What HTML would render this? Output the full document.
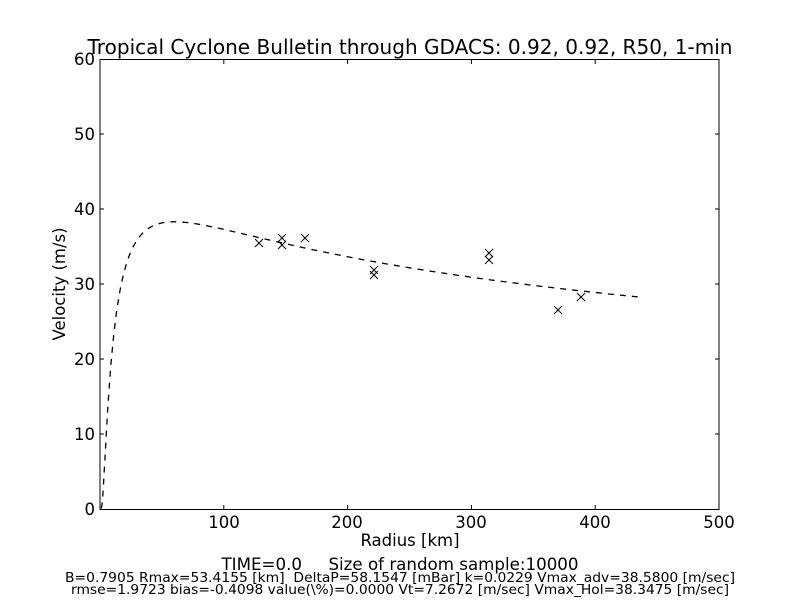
<!DOCTYPE html>
<html><head><meta charset="utf-8"><style>
body{margin:0;background:#fff;width:800px;height:600px;overflow:hidden}
text{font-family:"DejaVu Sans","Liberation Sans",sans-serif;fill:#000}
</style></head><body>
<svg id="s" width="800" height="600" xmlns="http://www.w3.org/2000/svg">
<rect width="800" height="600" fill="#fff"/>
<g id="ticks" stroke="#000" stroke-width="1"></g>
<path id="curve" fill="none" stroke="#000" stroke-width="1.3" stroke-dasharray="6,6"/>
<g id="marks" stroke="#000" stroke-width="1"></g>
<rect x="100" y="59.5" width="619" height="450" fill="none" stroke="#000" stroke-width="1"/>
<text x="410" y="54" font-size="20" text-anchor="middle" textLength="645" lengthAdjust="spacingAndGlyphs">Tropical Cyclone Bulletin through GDACS: 0.92, 0.92, R50, 1-min</text>
<g font-size="16.5" text-anchor="end">
<text x="95" y="515">0</text><text x="95" y="440">10</text><text x="95" y="365">20</text>
<text x="95" y="290">30</text><text x="95" y="215">40</text><text x="95" y="140">50</text><text x="95" y="65">60</text>
</g>
<g font-size="16.5" text-anchor="middle">
<text x="224" y="528">100</text><text x="347" y="528">200</text><text x="471" y="528">300</text>
<text x="595" y="528">400</text><text x="719" y="528">500</text>
</g>
<text x="410" y="546" font-size="16.5" text-anchor="middle">Radius [km]</text>
<text transform="translate(65,284) rotate(-90)" font-size="16.5" text-anchor="middle">Velocity (m/s)</text>
<text x="400" y="570" font-size="16.5" text-anchor="middle" xml:space="preserve" textLength="357" lengthAdjust="spacingAndGlyphs">TIME=0.0     Size of random sample:10000</text>
<text x="400" y="582" font-size="13.5" text-anchor="middle" xml:space="preserve" textLength="670" lengthAdjust="spacingAndGlyphs">B=0.7905 Rmax=53.4155 [km]  DeltaP=58.1547 [mBar] k=0.0229 Vmax_adv=38.5800 [m/sec]</text>
<text x="400" y="594" font-size="13.5" text-anchor="middle" textLength="658" lengthAdjust="spacingAndGlyphs">rmse=1.9723 bias=-0.4098 value(\%)=0.0000 Vt=7.2672 [m/sec] Vmax_Hol=38.3475 [m/sec]</text>
</svg>
<script>
var X=r=>100+r*1.238, Y=v=>509-v*7.5;
var t='';
[100,200,300,400].forEach(r=>{var x=X(r);t+=`<line x1="${x}" y1="509" x2="${x}" y2="505"/><line x1="${x}" y1="60" x2="${x}" y2="64"/>`});
[10,20,30,40,50].forEach(v=>{var y=Y(v);t+=`<line x1="100" y1="${y}" x2="104" y2="${y}"/><line x1="719" y1="${y}" x2="715" y2="${y}"/>`});
document.getElementById('ticks').innerHTML=t;
var d='',B=0.68,R=60,Vm=38.3;
for(var r=1;r<=437;r+=(r<40?0.5:2)){var a=Math.pow(R/r,B);var v=Vm*Math.sqrt(a*Math.exp(1-a));d+=(d?'L':'M')+X(r).toFixed(1)+','+Y(v).toFixed(1);}
document.getElementById('curve').setAttribute('d',d);
var m='';[[259,243],[282,238],[282,245],[305,238],[374,270],[374,275],[489,253],[489,260],[558,310],[581,297]].forEach(p=>{var x=p[0],y=p[1];m+=`<line x1="${x-4}" y1="${y-4}" x2="${x+4}" y2="${y+4}"/><line x1="${x-4}" y1="${y+4}" x2="${x+4}" y2="${y-4}"/>`});
document.getElementById('marks').innerHTML=m;
</script>
</body></html>
